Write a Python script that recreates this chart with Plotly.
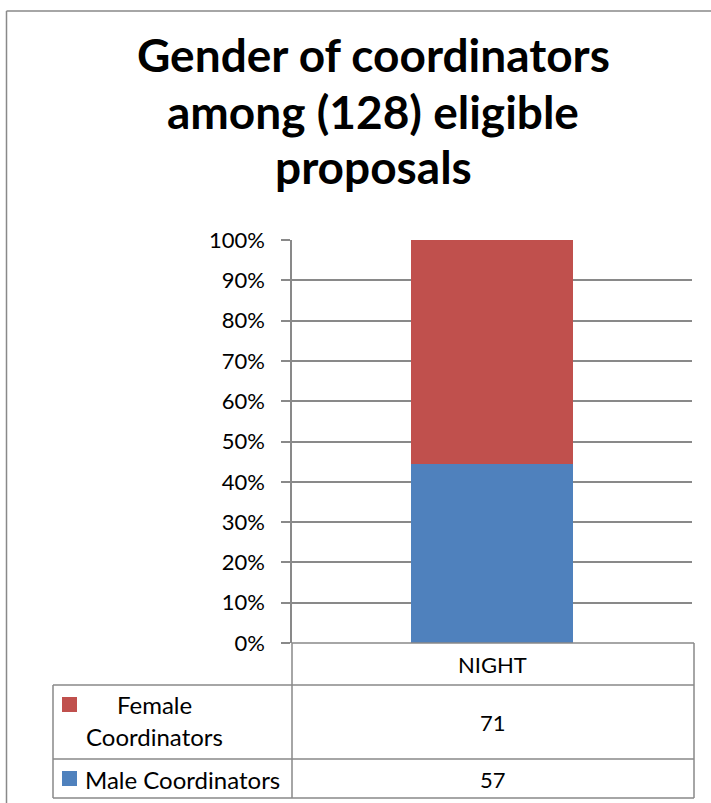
import plotly.graph_objects as go

# ---- data ----
categories = ["NIGHT"]
series_names = ["Male Coordinators", "Female Coordinators"]
male_values = [57]
female_values = [71]
series_colors = ["#4F81BD", "#C0504D"]
title_lines = ["Gender of coordinators", "among (128) eligible", "proposals"]
tick_values = [0, 10, 20, 30, 40, 50, 60, 70, 80, 90, 100]
tick_labels = ["0%", "10%", "20%", "30%", "40%", "50%", "60%", "70%", "80%", "90%", "100%"]

W, H = 711, 803
FONT = "Lato"
GRID = "#898989"


def px(x):
    return x / W


def py(y):
    return 1 - y / H


fig = go.Figure()
for name, vals, col in zip(series_names, [male_values, female_values], series_colors):
    fig.add_trace(go.Bar(x=categories, y=vals, name=name, marker=dict(color=col, line=dict(width=0)),
                         width=0.405, showlegend=False, hoverinfo="skip"))

fig.update_layout(
    width=W, height=H, margin=dict(l=0, r=0, t=0, b=0, pad=0, autoexpand=False),
    paper_bgcolor="white", plot_bgcolor="white",
    barmode="stack", barnorm="percent",
    font=dict(family=FONT, color="black"),
    xaxis=dict(domain=[px(292), px(692)], showticklabels=False, showgrid=False, zeroline=False,
               showline=False, ticks="", range=[-0.5, 0.5], automargin=False),
    yaxis=dict(domain=[py(643), py(240)], range=[0, 100], tickvals=tick_values, ticktext=tick_labels,
               showgrid=True, gridcolor=GRID, gridwidth=1.5, zeroline=False,
               showline=True, linecolor=GRID, linewidth=1.5, automargin=False,
               ticks="outside", ticklen=9, tickcolor=GRID, tickwidth=1.5,
               ticklabelstandoff=12,
               tickfont=dict(family=FONT, size=22, color="black")),
)

shapes = []


def line(x0, y0, x1, y1, w=1.5):
    shapes.append(dict(type="line", xref="paper", yref="paper", x0=px(x0), y0=py(y0), x1=px(x1), y1=py(y1),
                       line=dict(color=GRID, width=w)))


# outer chart border
line(6.5, 11, 711, 11)
line(6.5, 11, 6.5, 803)
# data table
line(292, 643, 694, 643)
line(53, 685, 694, 685)
line(53, 759, 694, 759)
line(53, 798, 694, 798)
line(53, 685, 53, 798)
line(292, 643, 292, 798)
line(694, 643, 694, 798)

# legend keys
for (y0, y1), col in zip([(771, 786), (697, 712)], series_colors):
    shapes.append(dict(type="rect", xref="paper", yref="paper", x0=px(62), x1=px(77), y0=py(y1), y1=py(y0),
                       fillcolor=col, line=dict(width=0)))

fig.update_layout(shapes=shapes)

ann = []
for text, y in zip(title_lines, [54, 111, 167]):
    ann.append(dict(text="<b>%s</b>" % text, x=px(373), y=py(y), xref="paper", yref="paper",
                    showarrow=False, xanchor="center", yanchor="middle",
                    font=dict(family=FONT, size=46, color="black")))

ann.append(dict(text=categories[0], x=px(492), y=py(664), xref="paper", yref="paper", showarrow=False,
                xanchor="center", yanchor="middle", font=dict(size=22)))
ann.append(dict(text=str(female_values[0]), x=px(493), y=py(722), xref="paper", yref="paper", showarrow=False,
                xanchor="center", yanchor="middle", font=dict(size=22)))
ann.append(dict(text=str(male_values[0]), x=px(493), y=py(779), xref="paper", yref="paper", showarrow=False,
                xanchor="center", yanchor="middle", font=dict(size=22)))
fem_words = series_names[1].split(" ")
ann.append(dict(text=fem_words[0], x=px(154), y=py(704), xref="paper", yref="paper", showarrow=False,
                xanchor="center", yanchor="middle", font=dict(size=24)))
ann.append(dict(text=fem_words[1], x=px(154), y=py(736), xref="paper", yref="paper", showarrow=False,
                xanchor="center", yanchor="middle", font=dict(size=24)))
ann.append(dict(text=series_names[0], x=px(83), y=py(779), xref="paper", yref="paper", showarrow=False,
                xanchor="left", yanchor="middle", font=dict(size=24)))
fig.update_layout(annotations=ann)

fig.write_html("out.html", config={"displayModeBar": False},
               post_script="document.body.style.margin='0';")
